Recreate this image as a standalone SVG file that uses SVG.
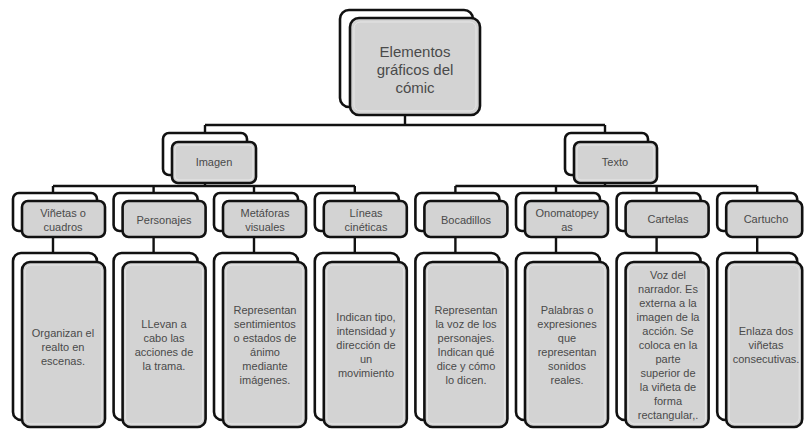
<svg xmlns="http://www.w3.org/2000/svg" width="804" height="430" viewBox="0 0 804 430">
<style>
.back{fill:#ffffff;stroke:#111;stroke-width:2.6}
.front{fill:#d3d3d3;stroke:#111;stroke-width:2.6}
.inner{fill:none;stroke:#e6e6e6;stroke-width:1}
.con{fill:none;stroke:#111;stroke-width:2.4}
text{font-family:"Liberation Sans",Arial,sans-serif;fill:#4a4a4a;text-anchor:middle;font-size:11px}
.big{font-size:15px}
</style>
<rect width="804" height="430" fill="#fff"/>
<g id="connectors">
<path class="con" d="M405 115V125M205 125H605M205 125V133M605 125V133"/>
<path class="con" d="M205 183V186M53 186H355M53 186V193M153.6 186V193M254 186V193M354.8 186V193"/>
<path class="con" d="M605 183V186M455.4 186H757.2M455.4 186V193M556 186V193M656.6 186V193M757.2 186V193"/>
<path class="con" d="M53 237V253M153.6 237V253M254 237V253M354.8 237V253M455.4 237V253M556 237V253M656.6 237V253M757.2 237V253"/>
</g>
<g id="root">
<rect class="back" x="340" y="10" width="133" height="97" rx="9"/>
<rect class="front" x="350" y="18" width="130" height="97" rx="9"/>
<rect class="inner" x="354" y="22" width="122" height="89" rx="6"/>
<text class="big" x="415" y="57">Elementos</text>
<text class="big" x="415" y="75">gráficos del</text>
<text class="big" x="415" y="93">cómic</text>
</g>
<g id="imagen">
<rect class="back" x="163" y="133" width="84" height="42" rx="6"/>
<rect class="front" x="172" y="142" width="84" height="41" rx="6"/>
<rect class="inner" x="175" y="145" width="78" height="35" rx="4"/>
<text x="214" y="166">Imagen</text>
</g>
<g id="texto">
<rect class="back" x="565" y="133" width="83" height="42" rx="6"/>
<rect class="front" x="574" y="142" width="83" height="41" rx="6"/>
<rect class="inner" x="577" y="145" width="77" height="35" rx="4"/>
<text x="615" y="166">Texto</text>
</g>
<g id="vinetas">
<rect class="back" x="13" y="193" width="84" height="38" rx="6"/>
<rect class="front" x="22" y="201" width="83" height="36" rx="6"/>
<text x="63" y="217">Viñetas o</text><text x="63" y="231">cuadros</text>
</g>
<g id="personajes">
<rect class="back" x="113.6" y="193" width="84" height="38" rx="6"/>
<rect class="front" x="122.6" y="201" width="83" height="36" rx="6"/>
<text x="164" y="224">Personajes</text>
</g>
<g id="metaforas">
<rect class="back" x="214" y="193" width="84" height="38" rx="6"/>
<rect class="front" x="223" y="201" width="83" height="36" rx="6"/>
<text x="265" y="217">Metáforas</text><text x="265" y="231">visuales</text>
</g>
<g id="lineas">
<rect class="back" x="314.8" y="193" width="84" height="38" rx="6"/>
<rect class="front" x="323.8" y="201" width="83" height="36" rx="6"/>
<text x="366" y="217">Líneas</text><text x="366" y="231">cinéticas</text>
</g>
<g id="bocadillos">
<rect class="back" x="415.4" y="193" width="84" height="38" rx="6"/>
<rect class="front" x="424.4" y="201" width="83" height="36" rx="6"/>
<text x="466" y="224">Bocadillos</text>
</g>
<g id="onomatopeyas">
<rect class="back" x="516" y="193" width="84" height="38" rx="6"/>
<rect class="front" x="525" y="201" width="83" height="36" rx="6"/>
<text x="567" y="217">Onomatopey</text><text x="567" y="231">as</text>
</g>
<g id="cartelas">
<rect class="back" x="616.6" y="193" width="84" height="38" rx="6"/>
<rect class="front" x="625.6" y="201" width="83" height="36" rx="6"/>
<text x="668" y="223">Cartelas</text>
</g>
<g id="cartucho">
<rect class="back" x="717.2" y="193" width="80" height="38" rx="6"/>
<rect class="front" x="726.2" y="201" width="76" height="36" rx="6"/>
<text x="766" y="223">Cartucho</text>
</g>
<g id="d-vinetas">
<rect class="back" x="13" y="253" width="84" height="167" rx="8"/>
<rect class="front" x="22" y="262" width="83" height="165" rx="8"/>
<rect class="inner" x="25" y="265" width="77" height="159" rx="6"/>
<text x="63" y="337">Organizan el</text><text x="63" y="351">realto en</text><text x="63" y="365">escenas.</text>
</g>
<g id="d-personajes">
<rect class="back" x="113.6" y="253" width="84" height="167" rx="8"/>
<rect class="front" x="122.6" y="262" width="83" height="165" rx="8"/>
<rect class="inner" x="125.6" y="265" width="77" height="159" rx="6"/>
<text x="164" y="328">LLevan a</text><text x="164" y="342">cabo las</text><text x="164" y="356">acciones  de</text><text x="164" y="370">la trama.</text>
</g>
<g id="d-metaforas">
<rect class="back" x="214" y="253" width="84" height="167" rx="8"/>
<rect class="front" x="223" y="262" width="83" height="165" rx="8"/>
<rect class="inner" x="226" y="265" width="77" height="159" rx="6"/>
<text x="265" y="314">Representan</text><text x="265" y="328">sentimientos</text><text x="265" y="342">o estados de</text><text x="265" y="356">ánimo</text><text x="265" y="370">mediante</text><text x="265" y="384">imágenes.</text>
</g>
<g id="d-lineas">
<rect class="back" x="314.8" y="253" width="84" height="167" rx="8"/>
<rect class="front" x="323.8" y="262" width="83" height="165" rx="8"/>
<rect class="inner" x="326.8" y="265" width="77" height="159" rx="6"/>
<text x="366" y="321">Indican tipo,</text><text x="366" y="335">intensidad y</text><text x="366" y="349">dirección de</text><text x="366" y="363">un</text><text x="366" y="377">movimiento</text>
</g>
<g id="d-bocadillos">
<rect class="back" x="415.4" y="253" width="84" height="167" rx="8"/>
<rect class="front" x="424.4" y="262" width="83" height="165" rx="8"/>
<rect class="inner" x="427.4" y="265" width="77" height="159" rx="6"/>
<text x="466" y="314">Representan</text><text x="466" y="328">la voz de los</text><text x="466" y="342">personajes.</text><text x="466" y="356">Indican qué</text><text x="466" y="370">dice y cómo</text><text x="466" y="384">lo dicen.</text>
</g>
<g id="d-onomatopeyas">
<rect class="back" x="516" y="253" width="84" height="167" rx="8"/>
<rect class="front" x="525" y="262" width="83" height="165" rx="8"/>
<rect class="inner" x="528" y="265" width="77" height="159" rx="6"/>
<text x="567" y="314">Palabras o</text><text x="567" y="328">expresiones</text><text x="567" y="342">que</text><text x="567" y="356">representan</text><text x="567" y="370">sonidos</text><text x="567" y="384">reales.</text>
</g>
<g id="d-cartelas">
<rect class="back" x="616.6" y="253" width="84" height="167" rx="8"/>
<rect class="front" x="625.6" y="262" width="83" height="165" rx="8"/>
<rect class="inner" x="628.6" y="265" width="77" height="159" rx="6"/>
<text x="668" y="279">Voz del</text><text x="668" y="293">narrador. Es</text><text x="668" y="307">externa a la</text><text x="668" y="321">imagen de la</text><text x="668" y="335">acción. Se</text><text x="668" y="349">coloca en la</text><text x="668" y="363">parte</text><text x="668" y="377">superior de</text><text x="668" y="391">la viñeta de</text><text x="668" y="405">forma</text><text x="668" y="419">rectangular,.</text>
</g>
<g id="d-cartucho">
<rect class="back" x="717.2" y="253" width="80" height="167" rx="8"/>
<rect class="front" x="726.2" y="262" width="76" height="165" rx="8"/>
<rect class="inner" x="729.2" y="265" width="70" height="159" rx="6"/>
<text x="766" y="335">Enlaza  dos</text><text x="766" y="349">viñetas</text><text x="766" y="363">consecutivas.</text>
</g>
</svg>
